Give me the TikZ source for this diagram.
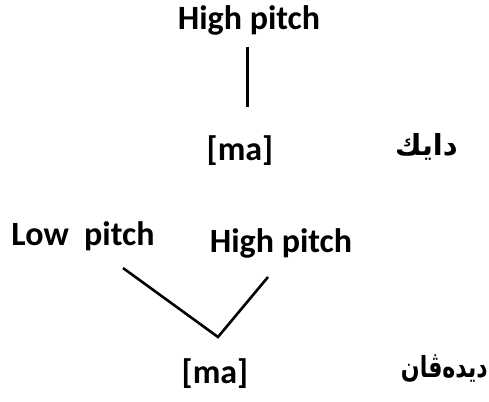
\documentclass[tikz,border=0pt]{standalone}
\usepackage{fontspec}
\setmainfont{Carlito}
\newfontfamily\arabicfont[Script=Arabic]{DejaVu Sans}
\TeXXeTstate=1
\begin{document}
\begin{tikzpicture}[x=1pt,y=-1pt,
  lbl/.style={inner sep=0pt,anchor=base,font=\fontsize{34}{40}\selectfont\bfseries},
  ar/.style={inner sep=0pt,anchor=base east,font=\fontsize{29}{34}\selectfont\arabicfont\bfseries},
  stem/.style={line width=3pt},
  vline/.style={line width=2.6pt}]
\useasboundingbox (0,0) rectangle (489,401);
% top
\node[lbl] (hp1) at (249,30) {High pitch};
\node[lbl] (ma1) at (240,160) {[ma]};
\node[ar] (w1) at (458,155) {\beginR دايك\endR};
\coordinate (t1) at (247,47);
\coordinate (t2) at (247,107);
\draw[stem] (t1) -- (t2);
% bottom
\node[lbl] (lp) at (83,245) {Low\ \ pitch};
\node[lbl] (hp2) at (281,252) {High pitch};
\node[lbl] (ma2) at (215,383) {[ma]};
\node[ar] (w2) at (488,377) {\scalebox{0.76}[1]{\beginR ديدەڤان\endR}};
\coordinate (l1) at (123,268);
\coordinate (apex) at (218,337);
\coordinate (r1) at (268,277);
\draw[vline] (l1) -- (apex) -- (r1);
\end{tikzpicture}
\end{document}
